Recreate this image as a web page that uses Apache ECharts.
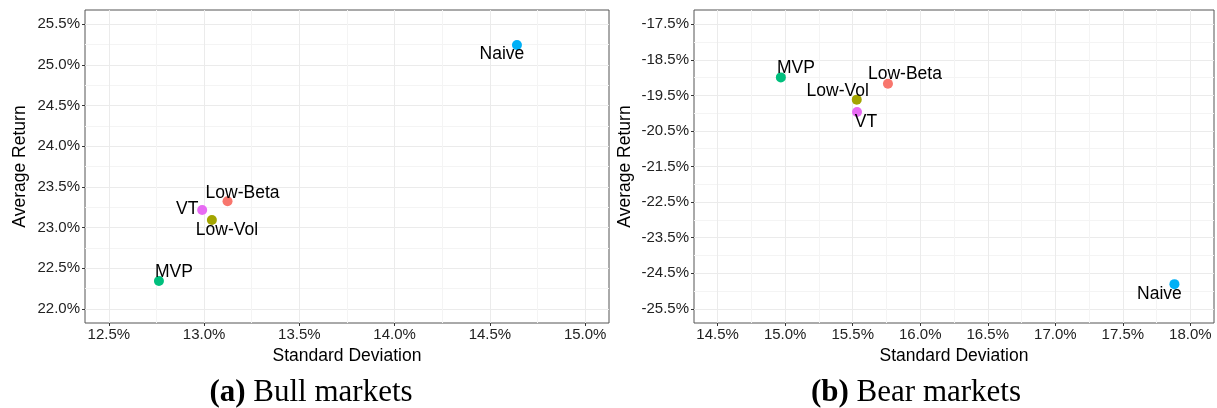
<!DOCTYPE html>
<html><head><meta charset="utf-8">
<script src="https://cdn.jsdelivr.net/npm/echarts@6/dist/echarts.min.js"></script>
<style>html,body{margin:0;padding:0;background:#fff}#c{width:1217px;height:408px}</style>
</head><body><div id="c"></div>
<script>
// ---- data ----
const strategies = ['Low-Beta', 'Low-Vol', 'MVP', 'Naive', 'VT'];
const bullSD  = [13.123, 13.041, 12.763, 14.642, 12.990];
const bullRet = [23.322, 23.093, 22.341, 25.245, 23.215];
const bearSD  = [15.761, 15.530, 14.968, 17.882, 15.532];
const bearRet = [-19.171, -19.620, -18.995, -24.808, -19.967];
const bullXTicks = [12.5, 13.0, 13.5, 14.0, 14.5, 15.0];
const bullXMinor = [12.75, 13.25, 13.75, 14.25, 14.75];
const bullYTicks = [22.0, 22.5, 23.0, 23.5, 24.0, 24.5, 25.0, 25.5];
const bullYMinor = [22.25, 22.75, 23.25, 23.75, 24.25, 24.75, 25.25];
const bearXTicks = [14.5, 15.0, 15.5, 16.0, 16.5, 17.0, 17.5, 18.0];
const bearXMinor = [14.75, 15.25, 15.75, 16.25, 16.75, 17.25, 17.75];
const bearYTicks = [-25.5, -24.5, -23.5, -22.5, -21.5, -20.5, -19.5, -18.5, -17.5];
const bearYMinor = [-25, -24, -23, -22, -21, -20, -19, -18];
const bullLimits = {x: [12.375, 15.125], y: [21.825, 25.675]};
const bearLimits = {x: [14.325, 18.175], y: [-25.9, -17.1]};

// ---- styles ----
const colors = {'Low-Beta': '#F8766D', 'Low-Vol': '#A3A500', 'MVP': '#00BF7D', 'Naive': '#00B0F6', 'VT': '#E76BF3'};
const bullLabelOffset = {'Naive': [-15, 9], 'Low-Beta': [15, -8], 'VT': [-15, -1], 'Low-Vol': [15, 10], 'MVP': [15, -9]};
const bearLabelOffset = {'MVP': [15, -9], 'Low-Beta': [17, -9], 'Low-Vol': [-19, -8], 'VT': [9, 10], 'Naive': [-15, 10]};
const FONT = 'Liberation Sans, Arial, sans-serif';
const pct = v => v.toFixed(1) + '%';

function mainX(gi, lim, ticks) {
  return {
    type: 'value', gridIndex: gi, min: lim[0], max: lim[1], position: 'bottom',
    name: 'Standard Deviation', nameLocation: 'middle', nameGap: 17,
    nameTextStyle: {fontFamily: FONT, fontSize: 17.5, color: '#000'},
    axisLine: {show: false},
    axisTick: {show: true, length: 3, inside: false, customValues: ticks, lineStyle: {color: '#333'}},
    axisLabel: {show: true, customValues: ticks, formatter: pct, margin: 4, fontFamily: FONT, fontSize: 15, color: '#222'},
    splitLine: {show: true, lineStyle: {color: '#ebebeb', width: 1}}
  };
}
function minorX(gi, lim, ticks) {
  return {
    type: 'value', gridIndex: gi, min: lim[0], max: lim[1], position: 'top',
    axisLine: {show: false}, axisLabel: {show: false},
    axisTick: {show: false, customValues: ticks},
    splitLine: {show: true, lineStyle: {color: '#f4f4f4', width: 1}}
  };
}
function mainY(gi, lim, ticks, gap) {
  return {
    type: 'value', gridIndex: gi, min: lim[0], max: lim[1], position: 'left',
    name: 'Average Return', nameLocation: 'middle', nameGap: gap, nameRotate: 90,
    nameTextStyle: {fontFamily: FONT, fontSize: 17.5, color: '#000'},
    axisLine: {show: false},
    axisTick: {show: true, length: 3, customValues: ticks, lineStyle: {color: '#333'}},
    axisLabel: {show: true, customValues: ticks, formatter: pct, margin: 5, fontFamily: FONT, fontSize: 15, color: '#222'},
    splitLine: {show: true, lineStyle: {color: '#ebebeb', width: 1}}
  };
}
function minorY(gi, lim, ticks) {
  return {
    type: 'value', gridIndex: gi, min: lim[0], max: lim[1], position: 'right',
    axisLine: {show: false}, axisLabel: {show: false},
    axisTick: {show: false, customValues: ticks},
    splitLine: {show: true, lineStyle: {color: '#f4f4f4', width: 1}}
  };
}
function makeSeries(xi, yi, sd, ret, offsets) {
  return {
    type: 'scatter', xAxisIndex: xi, yAxisIndex: yi, symbolSize: 10, z: 5,
    data: strategies.map((n, i) => ({
      name: n, value: [sd[i], ret[i]],
      itemStyle: {color: colors[n], opacity: 1},
      label: {show: true, position: 'inside', offset: offsets[n], formatter: n,
              fontFamily: FONT, fontSize: 17.5, color: '#000'}
    })),
    emphasis: {disabled: true}, silent: true
  };
}

const chart = echarts.init(document.getElementById('c'), null, {renderer: 'canvas'});
chart.setOption({
  animation: false,
  backgroundColor: '#fff',
  grid: [
    {left: 85, top: 10, width: 524, height: 313, show: true, borderColor: '#555', borderWidth: 1, backgroundColor: 'transparent'},
    {left: 694, top: 10, width: 520, height: 313, show: true, borderColor: '#555', borderWidth: 1, backgroundColor: 'transparent'}
  ],
  xAxis: [
    mainX(0, bullLimits.x, bullXTicks), minorX(0, bullLimits.x, bullXMinor),
    mainX(1, bearLimits.x, bearXTicks), minorX(1, bearLimits.x, bearXMinor)
  ],
  yAxis: [
    mainY(0, bullLimits.y, bullYTicks, 56), minorY(0, bullLimits.y, bullYMinor),
    mainY(1, bearLimits.y, bearYTicks, 60), minorY(1, bearLimits.y, bearYMinor)
  ],
  series: [
    makeSeries(0, 0, bullSD, bullRet, bullLabelOffset),
    makeSeries(2, 2, bearSD, bearRet, bearLabelOffset)
  ],
  graphic: [
    {type: 'text', x: 311, y: 393, silent: true, style: {
      text: '{b|(a)} Bull markets', textAlign: 'center', textVerticalAlign: 'middle',
      font: '31px "Liberation Serif", serif', fill: '#000',
      rich: {b: {fontWeight: 'bold', fontFamily: 'Liberation Serif', fontSize: 31}}
    }},
    {type: 'text', x: 916, y: 393, silent: true, style: {
      text: '{b|(b)} Bear markets', textAlign: 'center', textVerticalAlign: 'middle',
      font: '31px "Liberation Serif", serif', fill: '#000',
      rich: {b: {fontWeight: 'bold', fontFamily: 'Liberation Serif', fontSize: 31}}
    }}
  ]
});
</script>
</body></html>
